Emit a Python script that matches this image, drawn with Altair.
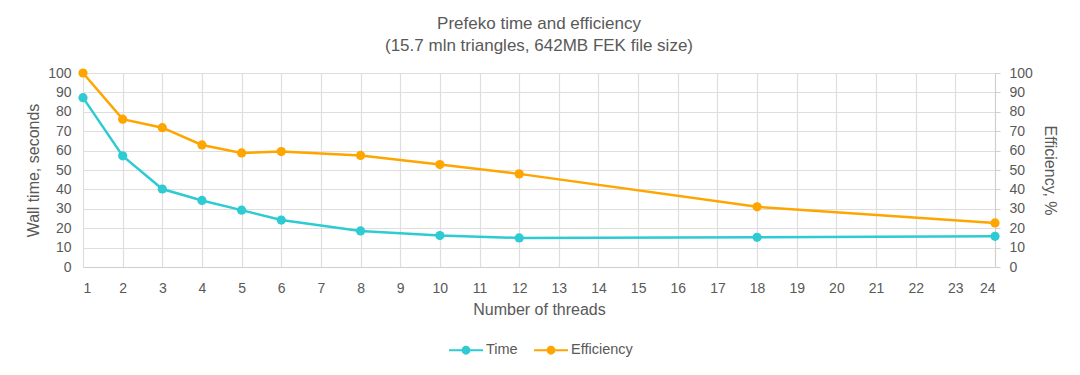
import altair as alt
import pandas as pd

threads = [1, 2, 3, 4, 5, 6, 8, 10, 12, 18, 24]
time_s = [87.3, 57.3, 40.2, 34.3, 29.3, 24.2, 18.6, 16.2, 15.0, 15.3, 15.8]
efficiency = [100, 76.2, 71.8, 62.9, 58.8, 59.5, 57.5, 52.8, 48.0, 31.0, 22.7]
series_names = ["Time", "Efficiency"]
colors = ["#2ECBD3", "#FFA500"]
x_ticks = list(range(1, 25))
y_ticks = list(range(0, 101, 10))

df = pd.DataFrame({
    "threads": threads + threads,
    "series": ["Time"] * len(threads) + ["Efficiency"] * len(threads),
    "value": time_s + efficiency,
})

FONT = "Liberation Sans"
TXT = "#595959"
GRID = "#dedede"

color_enc = alt.Color(
    "series:N",
    scale=alt.Scale(domain=series_names, range=colors),
    legend=alt.Legend(
        title=None,
        orient="none",
        direction="horizontal",
        legendX=366,
        legendY=260,
        symbolType="M-1,-0.06H1V0.06H-1Z M0.26,0A0.26,0.26,0,1,1,-0.26,0A0.26,0.26,0,1,1,0.26,0Z",
        symbolSize=1156,
        symbolStrokeWidth=0,
        symbolOpacity=1,
        labelFont=FONT,
        labelFontSize=14.5,
        labelColor=TXT,
        labelOffset=3,
        columnPadding=16,
        padding=0,
    ),
)

x_enc = alt.X(
    "threads:Q",
    scale=alt.Scale(domain=[1, 24], nice=False, zero=False),
    axis=alt.Axis(
        values=x_ticks,
        title="Number of threads",
        ticks=False,
        labelPadding=14,
        titlePadding=6,
        grid=True,
        domainColor="#cfcfcf",
    ),
)

base = alt.Chart(df)

def make_layer(name, color, axis):
    sub = base.transform_filter(alt.datum.series == name)
    y_enc = alt.Y("value:Q", scale=alt.Scale(domain=[0, 100], nice=False), axis=axis)
    line = sub.mark_line(interpolate="linear", color=color, strokeWidth=2.5).encode(x=x_enc, y=y_enc)
    pts = sub.mark_circle(size=85, opacity=1).encode(x=x_enc, y=y_enc, color=color_enc)
    return alt.layer(line, pts)

left_axis = alt.Axis(
    values=y_ticks,
    title="Wall time, seconds",
    orient="left",
    ticks=False,
    domain=False,
    labelPadding=12,
    titlePadding=6,
    grid=True,
)
right_axis = alt.Axis(
    values=y_ticks,
    title="Efficiency, %",
    orient="right",
    ticks=True,
    tickSize=5,
    tickColor="#cfcfcf",
    domain=True,
    domainColor="#cfcfcf",
    labelPadding=9,
    titlePadding=9,
    grid=False,
)

chart = alt.layer(
    make_layer("Time", colors[0], left_axis),
    make_layer("Efficiency", colors[1], right_axis),
).resolve_scale(y="independent").properties(
    width=912,
    height=194,
    autosize=alt.AutoSizeParams(type="none"),
    padding={"left": 83, "top": 73, "right": 85, "bottom": 108},
    background="white",
    title=alt.TitleParams(
        text=["Prefeko time and efficiency", "(15.7 mln triangles, 642MB FEK file size)"],
        font=FONT,
        fontSize=17,
        fontWeight="normal",
        color=TXT,
        anchor="middle",
        offset=11,
        lineHeight=22,
    ),
).configure_view(stroke=None).configure_axis(
    labelFont=FONT,
    labelFontSize=14,
    labelColor=TXT,
    titleFont=FONT,
    titleFontSize=16,
    titleFontWeight="normal",
    titleColor=TXT,
    gridColor=GRID,
    gridWidth=1.2,
)

chart.save("out.html", embed_options={"renderer": "svg", "actions": False})
